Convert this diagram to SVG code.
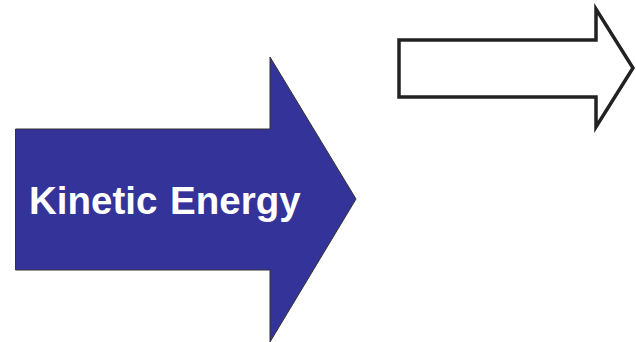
<svg xmlns="http://www.w3.org/2000/svg" width="636" height="342" viewBox="0 0 636 342">
<style>
.lbl{font-family:"Liberation Sans",Arial,sans-serif;font-weight:bold;font-size:38.5px;fill:#ffffff}
</style>
<rect width="636" height="342" fill="#ffffff"/>
<g id="kinetic-energy">
<polygon points="15.5,129 270,129 270,57 356,199 270,342 270,270 15.5,270" fill="#333399" stroke="#333333" stroke-width="1"/>
<text class="lbl" x="29" y="213.5" word-spacing="2">Kinetic Energy</text>
</g>
<g id="empty-arrow">
<polygon points="399,40 596,40 596,9 633,68 596,127 596,97 399,97" fill="#ffffff" stroke="#222222" stroke-width="3.5"/>
</g>
<g id="connectors"/>
</svg>
